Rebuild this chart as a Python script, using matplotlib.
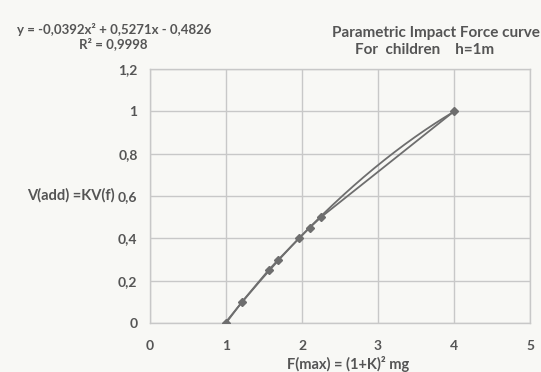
import numpy as np
import matplotlib.pyplot as plt

plt.rcParams['font.family'] = ['Lato', 'DejaVu Sans']

# data
f_max = [1.0, 1.21, 1.56, 1.69, 1.96, 2.1, 2.25, 4.0]
v_add = [0.0, 0.1, 0.25, 0.3, 0.4, 0.45, 0.5, 1.0]
coef = [-0.0392, 0.5271, -0.4826]
x_ticks = [0, 1, 2, 3, 4, 5]
y_ticks = [0, 0.2, 0.4, 0.6, 0.8, 1.0, 1.2]
y_labels = ['0', '0,2', '0,4', '0,6', '0,8', '1', '1,2']

bg = '#f8f8f5'
txt = '#555555'
grid = '#c8c8c8'
line = '#6e6e6e'

fig = plt.figure(figsize=(5.41, 3.72), dpi=100, facecolor=bg)
ax = fig.add_axes([0.2773, 0.1317, 0.7024, 0.6828], facecolor=bg)

# polynomial trendline
xt = np.linspace(f_max[0], f_max[-1], 200)
ax.plot(xt, np.polyval(coef, xt), color=line, lw=1.3, zorder=3)
# data series
ax.plot(f_max, v_add, color=line, lw=1.3, marker='D', ms=4, zorder=4)

ax.set_xlim(0, 5)
ax.set_ylim(0, 1.2)
ax.set_xticks(x_ticks)
ax.set_xticklabels([str(v) for v in x_ticks])
ax.set_yticks(y_ticks)
ax.set_yticklabels(y_labels)
ax.grid(True, color=grid, lw=1)
ax.set_axisbelow(True)
for s in ax.spines.values():
    s.set_color(grid)
    s.set_linewidth(1)
ax.tick_params(length=0, colors=txt, labelsize=10)
ax.tick_params(axis='x', pad=12)
ax.tick_params(axis='y', pad=9)
for lb in ax.get_xticklabels() + ax.get_yticklabels():
    lb.set_fontweight('bold')

# axis titles, placed like the Excel original
fig.text(348 / 541, 1 - 364 / 372, 'F(max) = (1+K)² mg', fontsize=10.5, fontweight='bold',
         color=txt, ha='center', va='center')
fig.text(115 / 541, 1 - 195 / 372, 'V(add) =KV(f)', fontsize=10.5, fontweight='bold',
         color=txt, ha='right', va='center')

fig.text(114 / 541, 1 - 29 / 372, 'y = -0,0392x² + 0,5271x - 0,4826', fontsize=9.5,
         fontweight='bold', color=txt, ha='center', va='center')
fig.text(113 / 541, 1 - 44 / 372, 'R² = 0,9998', fontsize=9.5, fontweight='bold',
         color=txt, ha='center', va='center')

fig.text(436 / 541, 1 - 33 / 372, 'Parametric Impact Force curve', fontsize=11,
         fontweight='bold', color=txt, ha='center', va='center')
fig.text(425 / 541, 1 - 50 / 372, 'For  children    h=1m', fontsize=11, fontweight='bold',
         color=txt, ha='center', va='center')

fig.savefig('out.png', dpi=100, facecolor=bg)
